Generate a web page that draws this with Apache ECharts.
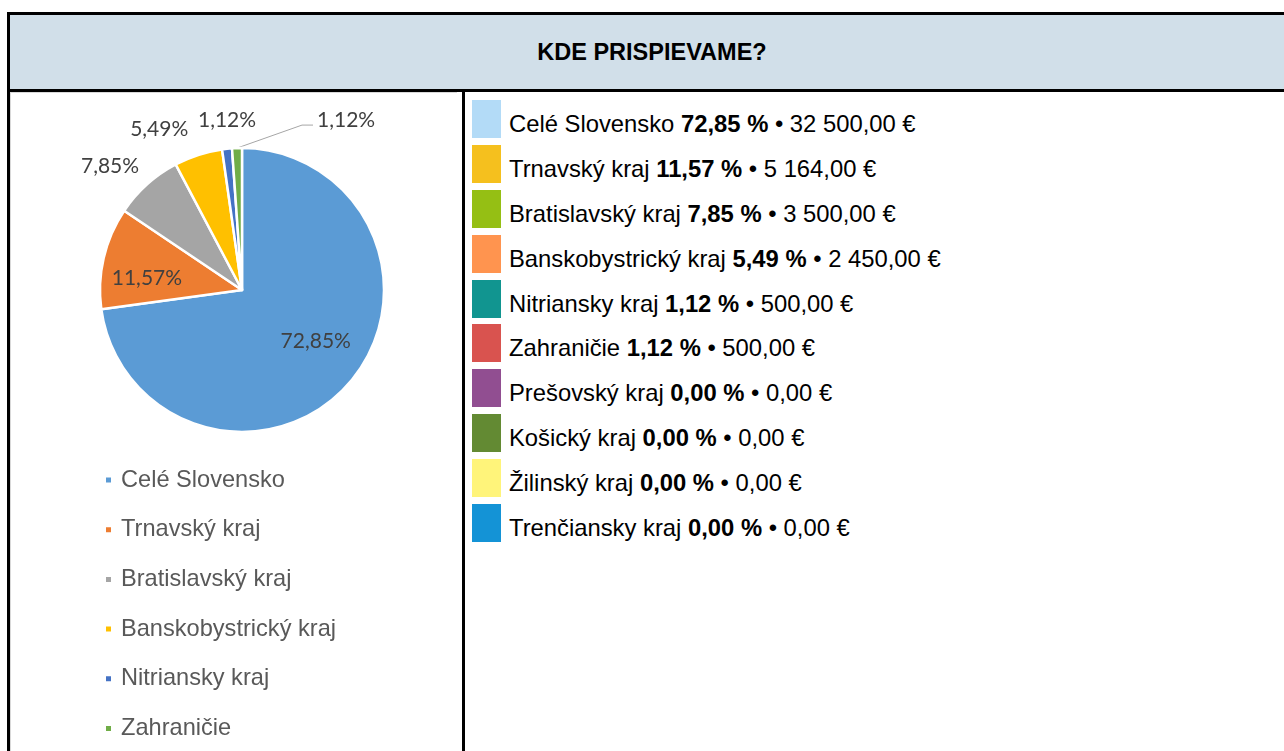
<!DOCTYPE html>
<html>
<head>
<meta charset="utf-8">
<title>KDE PRISPIEVAME?</title>
<script src="https://cdn.jsdelivr.net/npm/echarts@6/dist/echarts.min.js"></script>
<style>
    html, body { margin: 0; padding: 0; background: #fff; width: 1284px; height: 751px; overflow: hidden;
        font-family: "Liberation Sans", Arial, sans-serif; }
    .bar { position: absolute; background: #000; }
    #head { position: absolute; left: 10px; top: 15px; width: 1284px; height: 74px; background: #d1dfe9;
        text-align: center; line-height: 74px; font-weight: bold; font-size: 23.5px; color: #000; }
    #chartBox { position: absolute; left: 10px; top: 92px; width: 446px; height: 700px;
        border-left: 1px solid #d9d9d9; border-top: 1px solid #d9d9d9; }
    #chart { position: absolute; left: 10px; top: 92px; width: 452px; height: 659px; }
    #list { position: absolute; left: 472px; top: 100px; }
    .row { display: flex; height: 38px; margin-bottom: 6.9px; }
    .sq { width: 29px; height: 38px; }
    .txt { margin-left: 8px; font-size: 23.8px; line-height: 38px; position: relative; top: 5px; color: #000; white-space: nowrap; }
</style>
</head>
<body>
<div class="bar" style="left:7px;top:12px;width:3px;height:740px"></div>
<div class="bar" style="left:7px;top:12px;width:1277px;height:3px"></div>
<div id="head">KDE PRISPIEVAME?</div>
<div class="bar" style="left:7px;top:89px;width:1277px;height:3px"></div>
<div id="chartBox"></div>
<div class="bar" style="left:462px;top:92px;width:3px;height:660px"></div>
<div id="chart"></div>
<div id="list"></div>

<script>
    // regions and what was given to each (EUR)
    var regions = ['Celé Slovensko', 'Trnavský kraj', 'Bratislavský kraj', 'Banskobystrický kraj',
        'Nitriansky kraj', 'Zahraničie', 'Prešovský kraj', 'Košický kraj', 'Žilinský kraj', 'Trenčiansky kraj'];
    var amounts = [32500, 5164, 3500, 2450, 500, 500, 0, 0, 0, 0];
    var listColors = ['#b3dbf7', '#f5c01e', '#95bf14', '#ff944f', '#119590',
        '#d9534f', '#914e91', '#638a33', '#fff47a', '#1493d6'];
    // only the first six are in the pie
    var pieRegions = regions.slice(0, 6);
    var pieAmounts = amounts.slice(0, 6);
    var pieColors = ['#5b9bd5', '#ed7d31', '#a5a5a5', '#ffc000', '#4472c4', '#70ad47'];

    var total = amounts.reduce(function (a, b) { return a + b; }, 0);

    function fmtMoney(v) {
        var s = v.toFixed(2).split('.');
        return s[0].replace(/\B(?=(\d{3})+(?!\d))/g, ' ') + ',' + s[1] + ' €';
    }

    // right hand list
    var html = '';
    for (var i = 0; i < regions.length; i++) {
        var pct = (amounts[i] / total * 100).toFixed(2).replace('.', ',');
        html += '<div class="row"><div class="sq" style="background:' + listColors[i] + '"></div>' +
            '<div class="txt">' + regions[i] + ' <b>' + pct + ' %</b> • ' + fmtMoney(amounts[i]) + '</div></div>';
    }
    document.getElementById('list').innerHTML = html;

    var cx = 232, cy = 198;
    var pieData = [];
    for (var j = 0; j < pieRegions.length; j++) {
        pieData.push({
            name: pieRegions[j],
            value: pieAmounts[j],
            label: { position: j < 2 ? 'inside' : 'outside' },
            // lines are kept for the small slices so their end points are known, only the last one is visible
            labelLine: { show: j >= 2, length: 10, length2: 6, lineStyle: { opacity: j === 5 ? 1 : 0 } }
        });
    }

    // nudges to get close to where excel put the labels
    var insideShift = { 0: [18, 3], 1: [-23, 5] };
    var outsideShift = { 2: [-37, -18], 3: [-39, -26], 4: [0, -29] };

    var myChart = echarts.init(document.getElementById('chart'));
    var option = {
        animation: false,
        color: pieColors,
        legend: {
            orient: 'vertical',
            left: 89,
            top: 371,
            icon: 'rect',
            itemWidth: 7,
            itemHeight: 7,
            itemGap: 25.7,
            selectedMode: false,
            data: pieRegions,
            textStyle: {
                fontFamily: '"Liberation Sans", Arial, sans-serif',
                fontSize: 23.6,
                lineHeight: 24,
                color: '#595959',
                padding: [0, 0, 0, 4]
            }
        },
        series: [{
            type: 'pie',
            center: [cx, cy],
            radius: [0, 142],
            startAngle: 90,
            clockwise: true,
            avoidLabelOverlap: false,
            itemStyle: { borderColor: '#fff', borderWidth: 2.5 },
            label: {
                fontFamily: 'Lato, "Noto Sans", sans-serif',
                fontSize: 21,
                color: '#404040',
                formatter: function (p) {
                    return p.percent.toFixed(2).replace('.', ',') + '%';
                }
            },
            labelLine: {
                lineStyle: { color: '#a6a6a6', width: 1 }
            },
            emphasis: { disabled: true },
            labelLayout: function (p) {
                if (insideShift[p.dataIndex]) {
                    return { dx: insideShift[p.dataIndex][0], dy: insideShift[p.dataIndex][1] };
                }
                if (!p.labelLinePoints) return;
                var s = p.labelLinePoints[0];
                if (outsideShift[p.dataIndex]) {
                    var o = outsideShift[p.dataIndex];
                    return { x: s[0] + o[0], y: s[1] + o[1], align: 'center', verticalAlign: 'middle' };
                }
                if (p.dataIndex === 5) {
                    return {
                        x: s[0] + 80, y: s[1] - 28, align: 'left', verticalAlign: 'middle',
                        labelLinePoints: [s, [s[0] + 65, s[1] - 23], [s[0] + 76, s[1] - 23]]
                    };
                }
            },
            data: pieData
        }]
    };
    myChart.setOption(option);
</script>
</body>
</html>
